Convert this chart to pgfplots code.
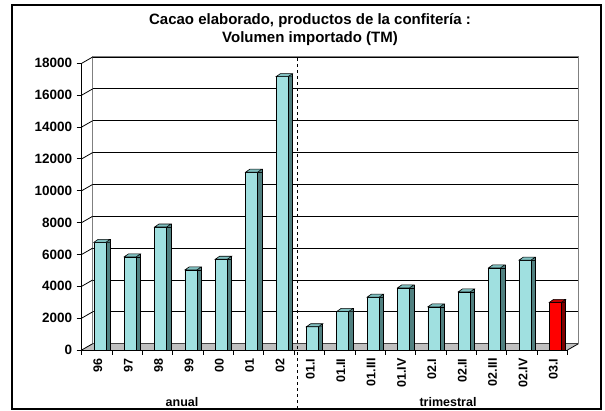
\documentclass[border=0pt]{standalone}
\usepackage{pgfplots}
\pgfplotsset{compat=1.18}
\usepackage{fontspec}
\setmainfont{Liberation Sans}

\definecolor{cyanfront}{RGB}{160,224,224}
\definecolor{cyanside}{RGB}{80,128,128}
\definecolor{cyantop}{RGB}{128,192,192}
\definecolor{redfront}{RGB}{255,0,0}
\definecolor{redside}{RGB}{128,0,0}
\definecolor{redtop}{RGB}{192,0,0}
\definecolor{floorgray}{RGB}{192,192,192}

% top face of a 3D column, drawn at the bar's value
\pgfdeclareplotmark{topc}{%
  \pgfsetfillcolor{cyanside}
  \pgfpathmoveto{\pgfpoint{9pt}{0pt}}\pgflineto{\pgfpoint{13.3pt}{3pt}}\pgflineto{\pgfpoint{13.3pt}{0pt}}\pgfpathclose
  \pgfusepath{fill}
  \pgfsetfillcolor{cyantop}
  \pgfpathmoveto{\pgfpoint{-3pt}{0pt}}\pgflineto{\pgfpoint{9pt}{0pt}}\pgflineto{\pgfpoint{13.3pt}{3pt}}\pgflineto{\pgfpoint{1.3pt}{3pt}}\pgfpathclose
  \pgfusepath{fill,stroke}
  \pgfpathmoveto{\pgfpoint{13.3pt}{3pt}}\pgflineto{\pgfpoint{13.3pt}{0pt}}\pgfusepath{stroke}}
\pgfdeclareplotmark{topr}{%
  \pgfsetfillcolor{redside}
  \pgfpathmoveto{\pgfpoint{9pt}{0pt}}\pgflineto{\pgfpoint{13.3pt}{3pt}}\pgflineto{\pgfpoint{13.3pt}{0pt}}\pgfpathclose
  \pgfusepath{fill}
  \pgfsetfillcolor{redtop}
  \pgfpathmoveto{\pgfpoint{-3pt}{0pt}}\pgflineto{\pgfpoint{9pt}{0pt}}\pgflineto{\pgfpoint{13.3pt}{3pt}}\pgflineto{\pgfpoint{1.3pt}{3pt}}\pgfpathclose
  \pgfusepath{fill,stroke}
  \pgfpathmoveto{\pgfpoint{13.3pt}{3pt}}\pgflineto{\pgfpoint{13.3pt}{0pt}}\pgfusepath{stroke}}

\begin{document}
\begin{tikzpicture}[font=\bfseries]
\begin{axis}[
    at={(81.7pt,61pt)}, anchor=south west,
    scale only axis, width=485.8pt, height=286.7pt,
    clip=false,
    xmin=-0.5, xmax=15.5, ymin=0, ymax=18000,
    axis x line*=bottom, axis y line*=left,
    axis line style={line width=0.8pt},
    xtick={0,...,15},
    xticklabels={96,97,98,99,00,01,02,01.I,01.II,01.III,01.IV,02.I,02.II,02.III,02.IV,03.I},
    minor xtick={-0.5,0.5,...,15.5},
    ytick={0,2000,...,18000},
    scaled y ticks=false,
    tick align=outside,
    major x tick style={draw=none},
    minor tick length=5pt, major tick length=5pt,
    tick style={black, line width=0.8pt},
    xticklabel style={rotate=90, anchor=east, font=\fontsize{12.5}{14}\selectfont\bfseries, yshift=-1pt},
    yticklabel style={font=\fontsize{13.5}{15}\selectfont\bfseries, xshift=-1pt},
    /pgf/number format/assume math mode=true,
    /pgf/number format/1000 sep={},
    ymajorgrids=true,
    major grid style={black, line width=0.8pt, xshift=11pt, yshift=6.3pt},
]
% floor
\fill[floorgray] (axis cs:-0.5,0) -- (axis cs:15.5,0) -- ++(11pt,6.3pt)
   -- ([shift={(11pt,6.3pt)}]axis cs:-0.5,0) -- cycle;
\draw[line width=0.8pt] (axis cs:15.5,0) -- ++(11pt,6.3pt);
% back wall outline
\draw[gray, line width=1pt] ([shift={(11pt,6.3pt)}]axis cs:-0.5,0) -- ([shift={(11pt,6.3pt)}]axis cs:-0.5,18000)
   -- ([shift={(11pt,6.3pt)}]axis cs:15.5,18000) -- ([shift={(11pt,6.3pt)}]axis cs:15.5,0);
% side wall lines
\pgfplotsinvokeforeach{0,2000,4000,6000,8000,10000,12000,14000,16000,18000}{
  \draw[line width=0.8pt] (axis cs:-0.5,#1) -- ++(11pt,6.3pt);
}

% side faces
\addplot[ybar, bar width=4.3pt, bar shift=11.15pt, fill=cyanside, draw=black, line width=0.6pt]
  coordinates {(0,6760) (1,5850) (2,7720) (3,5030) (4,5700) (5,11170) (6,17160)
               (7,1460) (8,2420) (9,3320) (10,3900) (11,2710) (12,3650) (13,5160) (14,5640)};
\addplot[ybar, bar width=4.3pt, bar shift=11.15pt, fill=redside, draw=black, line width=0.6pt]
  coordinates {(15,2990)};
% front faces
\addplot[ybar, bar width=12pt, bar shift=3pt, fill=cyanfront, draw=black, line width=0.6pt]
  coordinates {(0,6760) (1,5850) (2,7720) (3,5030) (4,5700) (5,11170) (6,17160)
               (7,1460) (8,2420) (9,3320) (10,3900) (11,2710) (12,3650) (13,5160) (14,5640)};
\addplot[ybar, bar width=12pt, bar shift=3pt, fill=redfront, draw=black, line width=0.6pt]
  coordinates {(15,2990)};
% top faces
\addplot[only marks, mark=topc, mark options={draw=black, line width=0.6pt}]
  coordinates {(0,6760) (1,5850) (2,7720) (3,5030) (4,5700) (5,11170) (6,17160)
               (7,1460) (8,2420) (9,3320) (10,3900) (11,2710) (12,3650) (13,5160) (14,5640)};
\addplot[only marks, mark=topr, mark options={draw=black, line width=0.6pt}]
  coordinates {(15,2990)};
\end{axis}

\draw[dashed, line width=0.8pt] (297pt,2pt) -- (297pt,355pt);
\node[font=\fontsize{12.5}{14}\selectfont\bfseries] at (182pt,8.5pt) {anual};
\node[font=\fontsize{12.5}{14}\selectfont\bfseries] at (448pt,8.5pt) {trimestral};
\node[font=\fontsize{15}{17}\selectfont\bfseries] at (310pt,390.3pt) {Cacao elaborado, productos de la confitería :};
\node[font=\fontsize{15}{17}\selectfont\bfseries] at (310pt,372.3pt) {Volumen importado (TM)};
\draw[line width=1.2pt] (12pt,2pt) rectangle (601pt,406pt);
\pgfresetboundingbox
\useasboundingbox (0,0) rectangle (605pt,411pt);
\end{tikzpicture}
\end{document}
